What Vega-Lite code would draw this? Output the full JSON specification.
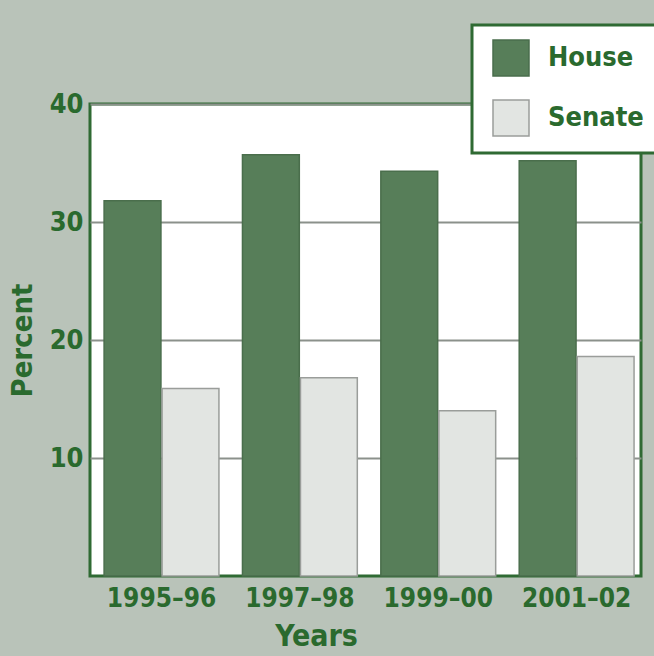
{
  "$schema": "https://vega.github.io/schema/vega-lite/v6.json",
  "width": 551,
  "height": 472,
  "autosize": "none",
  "padding": {"left": 90, "top": 104, "right": 13, "bottom": 80},
  "background": "#b9c3b9",
  "config": {
    "view": {"fill": "#ffffff", "stroke": "#2f6a33", "strokeWidth": 3},
    "font": "Liberation Sans Narrow, DejaVu Sans Condensed, sans-serif"
  },
  "data": {
    "values": [
      {"years": "1995–96", "chamber": "House", "percent": 31.8},
      {"years": "1995–96", "chamber": "Senate", "percent": 15.9},
      {"years": "1997–98", "chamber": "House", "percent": 35.7},
      {"years": "1997–98", "chamber": "Senate", "percent": 16.8},
      {"years": "1999–00", "chamber": "House", "percent": 34.3},
      {"years": "1999–00", "chamber": "Senate", "percent": 14.0},
      {"years": "2001–02", "chamber": "House", "percent": 35.2},
      {"years": "2001–02", "chamber": "Senate", "percent": 18.6}
    ]
  },
  "mark": {"type": "bar", "strokeWidth": 1.5},
  "encoding": {
    "x": {
      "field": "years",
      "type": "nominal",
      "sort": null,
      "scale": {"paddingInner": 0.17, "paddingOuter": 0.076, "align": 0.67},
      "axis": {
        "title": "Years",
        "labelAngle": 0,
        "labelFontSize": 26,
        "labelFontWeight": "bold",
        "labelColor": "#2a6a2e",
        "labelPadding": 9,
        "ticks": false,
        "domain": false,
        "titleFontSize": 30,
        "titleFontWeight": "bold",
        "titleColor": "#2a6a2e",
        "titleX": 226,
        "titleAlign": "center",
        "titlePadding": 10
      }
    },
    "xOffset": {"field": "chamber", "type": "nominal", "scale": {"paddingInner": 0.02}},
    "y": {
      "field": "percent",
      "type": "quantitative",
      "scale": {"domain": [0, 40], "nice": false},
      "axis": {
        "title": "Percent",
        "values": [10, 20, 30, 40],
        "labelFontSize": 27,
        "labelFontWeight": "bold",
        "labelColor": "#2a6a2e",
        "labelPadding": 7,
        "ticks": false,
        "domain": false,
        "grid": true,
        "gridColor": "#8b918b",
        "gridWidth": 2,
        "titleFontSize": 29,
        "titleFontWeight": "bold",
        "titleColor": "#2a6a2e",
        "titlePadding": 12
      }
    },
    "color": {
      "field": "chamber",
      "type": "nominal",
      "scale": {"domain": ["House", "Senate"], "range": ["#577e59", "#e2e5e2"]},
      "legend": {
        "title": null,
        "orient": "none",
        "legendX": 382,
        "legendY": -79,
        "symbolType": "square",
        "symbolSize": 1296,
        "symbolStrokeWidth": 1.5,
        "symbolOffset": 6,
        "labelFontSize": 27,
        "labelFontWeight": "bold",
        "labelColor": "#2a6a2e",
        "labelOffset": 18,
        "rowPadding": 18,
        "padding": 14,
        "fillColor": "#ffffff",
        "strokeColor": "#2f6a33",
        "encode": {"legend": {"update": {"strokeWidth": {"value": 3}}}}
      }
    },
    "stroke": {
      "field": "chamber",
      "type": "nominal",
      "scale": {"domain": ["House", "Senate"], "range": ["#4a6e4c", "#9a9d9a"]},
      "legend": null
    }
  }
}
